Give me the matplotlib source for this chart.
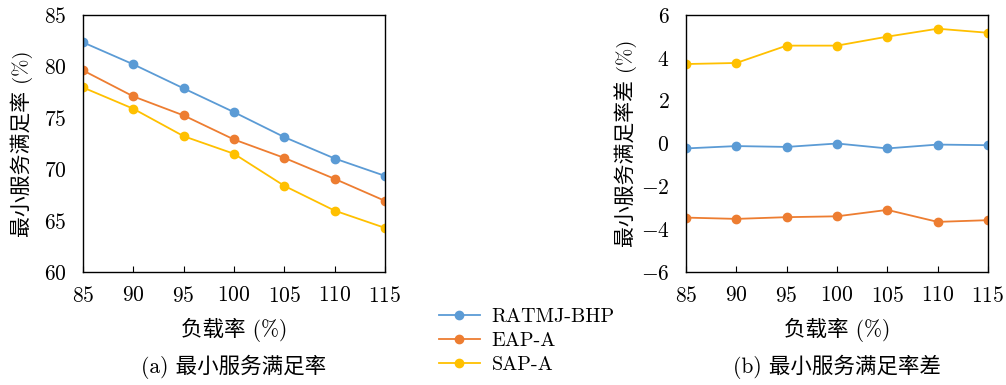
import matplotlib
matplotlib.use("Agg")
from matplotlib import pyplot as plt

plt.rcParams['font.family'] = ['cmr10', 'Noto Sans CJK SC']
plt.rcParams['mathtext.fontset'] = 'cm'
plt.rcParams['axes.formatter.use_mathtext'] = True
plt.rcParams['font.size'] = 15.5

load = [85, 90, 95, 100, 105, 110, 115]
names = ['RATMJ-BHP', 'EAP-A', 'SAP-A']
colors = ['#5B9BD5', '#ED7D31', '#FFC000']

# (a) minimum service satisfaction rate
sat_ratmj = [82.34, 80.2, 77.86, 75.55, 73.12, 71.04, 69.35]
sat_eap = [79.61, 77.08, 75.23, 72.89, 71.1, 69.06, 66.92]
sat_sap = [77.95, 75.88, 73.21, 71.5, 68.38, 65.97, 64.29]

# (b) difference of minimum service satisfaction rate
diff_ratmj = [-0.23, -0.12, -0.16, 0.0, -0.23, -0.05, -0.08]
diff_eap = [-3.46, -3.52, -3.44, -3.40, -3.10, -3.66, -3.58]
diff_sap = [3.71, 3.76, 4.57, 4.57, 4.99, 5.36, 5.17]

fig = plt.figure(figsize=(10.06, 3.85), dpi=100)
ax1 = fig.add_axes([83 / 1006, 1 - 272 / 385, 302 / 1006, 257 / 385])
ax2 = fig.add_axes([686 / 1006, 1 - 272 / 385, 302 / 1006, 257 / 385])

handles = []
for ys, c, n in zip([sat_ratmj, sat_eap, sat_sap], colors, names):
    h, = ax1.plot(load, ys, color=c, marker='o', markersize=6, lw=1.3, label=n)
    handles.append(h)
for ys, c in zip([diff_ratmj, diff_eap, diff_sap], colors):
    ax2.plot(load, ys, color=c, marker='o', markersize=6, lw=1.3)

for ax in (ax1, ax2):
    ax.set_xlim(85, 115)
    ax.set_xticks(load)
    ax.tick_params(axis='x', direction='in', length=4, width=0.8, pad=10)
    ax.tick_params(axis='y', direction='in', length=0, pad=12)
    for s in ax.spines.values():
        s.set_linewidth(1.0)

ax1.set_ylim(60, 85)
ax1.set_yticks([60, 65, 70, 75, 80, 85])
ax2.set_ylim(-6, 6)
ax2.set_yticks([-6, -4, -2, 0, 2, 4, 6])

ax1.set_xlabel('负载率 (%)')
ax2.set_xlabel('负载率 (%)')
ax1.set_ylabel('最小服务满足率 (%)', fontsize=15)
ax2.set_ylabel('最小服务满足率差 (%)', fontsize=15)
ax1.xaxis.set_label_coords(0.5, -(330 - 272) / 257)
ax2.xaxis.set_label_coords(0.5, -(330 - 272) / 257)
ax1.yaxis.set_label_coords(-(83 - 22) / 302, 0.5)
ax2.yaxis.set_label_coords(-(686 - 626) / 302, 0.5)
ax1.xaxis.label.set_va('center')
ax2.xaxis.label.set_va('center')
ax1.yaxis.label.set_va('center')
ax2.yaxis.label.set_va('center')

fig.text(234 / 1006, 1 - 367 / 385, '(a) 最小服务满足率', ha='center', va='center')
fig.text(837 / 1006, 1 - 367 / 385, '(b) 最小服务满足率差', ha='center', va='center')

fig.legend(handles=handles, loc='center', bbox_to_anchor=(527 / 1006, 1 - 341 / 385),
           frameon=False, handlelength=2.0, labelspacing=0.3, handletextpad=0.6,
           fontsize=14.5)

fig.savefig('out.png', dpi=100)
